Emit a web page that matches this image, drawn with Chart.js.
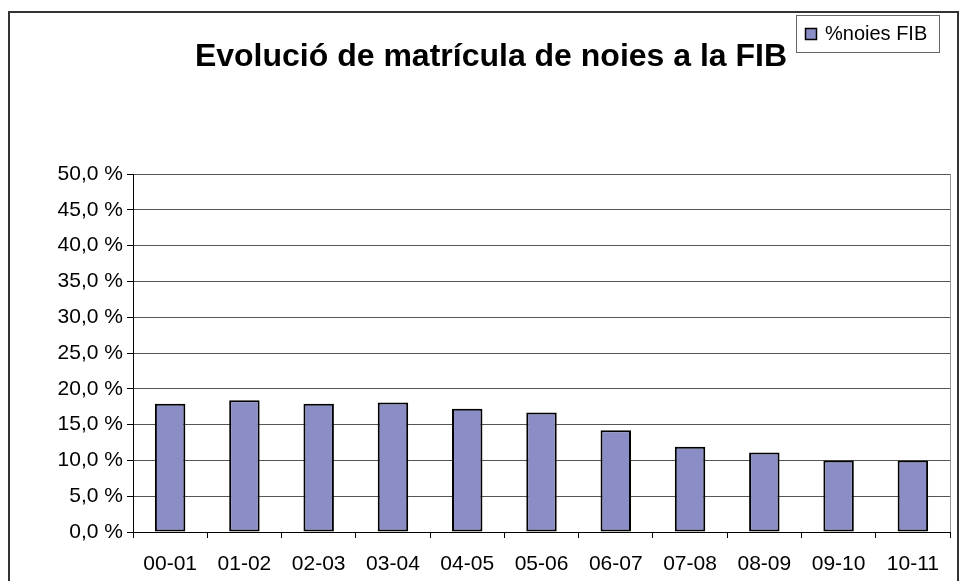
<!DOCTYPE html>
<html>
<head>
<meta charset="utf-8">
<script src="https://cdn.jsdelivr.net/npm/chart.js@4/dist/chart.umd.min.js"></script>
<style>
  html, body { margin: 0; padding: 0; background: #fff; }
  #wrap { width: 959px; height: 581px; position: relative; }
</style>
</head>
<body>
<div id="wrap"><canvas id="chart" width="959" height="581"></canvas></div>
<script>
  // data
  const CATEGORIES = ["00-01", "01-02", "02-03", "03-04", "04-05", "05-06",
                      "06-07", "07-08", "08-09", "09-10", "10-11"];
  const PCT_NOIES = [17.9, 18.4, 17.9, 18.1, 17.2, 16.7, 14.2, 11.9, 11.1, 10.0, 10.0];
  const SERIES_NAME = "%noies FIB";
  const TITLE = "Evolució de matrícula de noies a la FIB";
  const Y_MIN = 0;
  const Y_MAX = 50;
  const Y_STEP = 5;

  const FONT = "'Liberation Sans', Arial, sans-serif";
  const BAR_COLOR = "#8b8ec6";

  // outer frame, plot right border, title and legend box
  const decorations = {
    id: "decorations",
    beforeDraw(chart) {
      let ctx = chart.ctx;
      ctx.save();
      ctx.strokeStyle = "#333";
      ctx.lineWidth = 2;
      ctx.beginPath();
      ctx.moveTo(9, 590);
      ctx.lineTo(9, 12);
      ctx.lineTo(958, 12);
      ctx.lineTo(958, 590);
      ctx.stroke();
      ctx.restore();
    },
    afterDraw(chart) {
      let ctx = chart.ctx;
      let area = chart.chartArea;
      ctx.save();
      // right border of plot area
      ctx.strokeStyle = "#999";
      ctx.lineWidth = 1;
      ctx.beginPath();
      ctx.moveTo(Math.round(area.right) + 0.5, area.top);
      ctx.lineTo(Math.round(area.right) + 0.5, area.bottom);
      ctx.stroke();

      // title
      ctx.fillStyle = "#000";
      ctx.font = "bold 32px " + FONT;
      ctx.textAlign = "center";
      ctx.textBaseline = "middle";
      ctx.fillText(TITLE, 491, 57);

      // legend
      let lx = 796, ly = 15, lw = 143, lh = 37;
      ctx.fillStyle = "#fff";
      ctx.fillRect(lx, ly, lw, lh);
      ctx.strokeStyle = "#666";
      ctx.lineWidth = 1;
      ctx.strokeRect(lx + 0.5, ly + 0.5, lw, lh);
      ctx.fillStyle = BAR_COLOR;
      ctx.fillRect(lx + 9, ly + 13, 11, 11);
      ctx.strokeStyle = "#000";
      ctx.lineWidth = 1.5;
      ctx.strokeRect(lx + 9.5, ly + 13.5, 11, 11);
      ctx.fillStyle = "#000";
      ctx.font = "20px " + FONT;
      ctx.textAlign = "left";
      ctx.fillText(SERIES_NAME, lx + 29, ly + 19);
      ctx.restore();
    }
  };

  new Chart(document.getElementById("chart"), {
    type: "bar",
    data: {
      labels: CATEGORIES,
      datasets: [{
        label: SERIES_NAME,
        data: PCT_NOIES,
        backgroundColor: BAR_COLOR,
        borderColor: "#000",
        borderWidth: 2,
        borderSkipped: false,
        barPercentage: 0.41,
        categoryPercentage: 1.0
      }]
    },
    options: {
      responsive: false,
      animation: false,
      layout: { padding: { top: 174, left: 0, right: 9, bottom: 4 } },
      plugins: {
        legend: { display: false },
        title: { display: false },
        tooltip: { enabled: false }
      },
      scales: {
        x: {
          offset: true,
          afterFit(scale) { scale.height = 45; },
          grid: {
            offset: true,
            drawOnChartArea: false,
            tickLength: 6,
            tickColor: "#000"
          },
          border: { color: "#000", width: 1 },
          ticks: {
            color: "#000",
            font: { family: FONT, size: 21 },
            padding: 14,
            maxRotation: 0
          }
        },
        y: {
          min: Y_MIN,
          max: Y_MAX,
          afterFit(scale) { scale.width = 133; },
          grid: {
            color: "#555",
            tickLength: 6,
            tickColor: "#000"
          },
          border: { color: "#000", width: 1 },
          ticks: {
            stepSize: Y_STEP,
            color: "#000",
            padding: 4,
            font: { family: FONT, size: 21 },
            callback: (v) => v.toFixed(1).replace(".", ",") + " %"
          }
        }
      }
    },
    plugins: [decorations]
  });
</script>
</body>
</html>
